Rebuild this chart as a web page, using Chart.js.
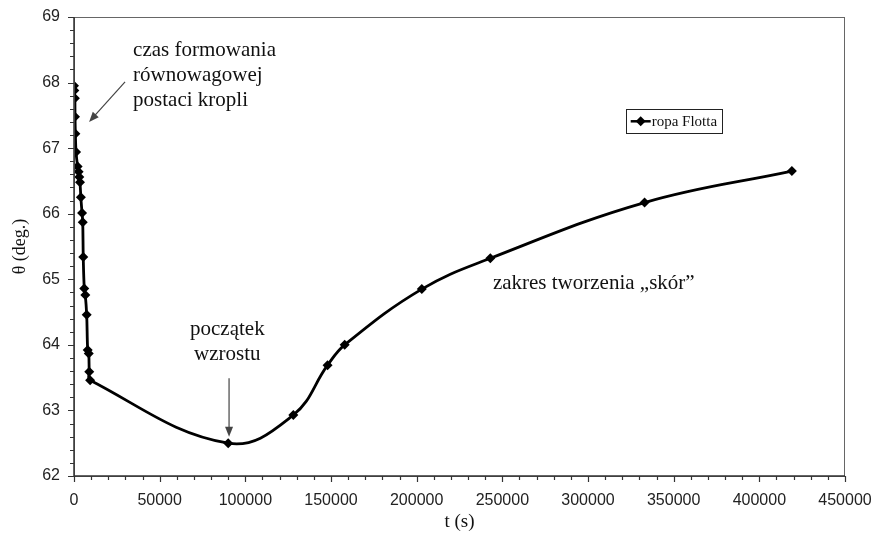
<!DOCTYPE html>
<html>
<head>
<meta charset="utf-8">
<script src="https://cdn.jsdelivr.net/npm/chart.js@4"></script>
<style>
  html, body { margin: 0; padding: 0; background: #fff; }
  #wrap { width: 872px; height: 536px; }
</style>
</head>
<body>
<div id="wrap"><canvas id="chart" width="872" height="536"></canvas></div>
<script>
const timeS = [0, 200, 500, 600, 800, 1200, 2100, 2700, 3100, 3500, 4000, 4700, 5100, 5400,
  6000, 6600, 7400, 8000, 8600, 8900, 9400,
  90000, 128000, 148000, 158000, 203000, 243000, 333000, 419000];
const thetaDeg = [67.95, 67.88, 67.76, 67.48, 67.22, 66.94, 66.72, 66.64, 66.56, 66.48, 66.25, 66.01, 65.87, 65.34,
  64.86, 64.76, 64.46, 63.92, 63.87, 63.59, 63.46,
  62.50, 62.93, 63.69, 64.00, 64.85, 65.32, 66.17, 66.65];
const seriesName = "ropa Flotta";

const xTicks = [0, 50000, 100000, 150000, 200000, 250000, 300000, 350000, 400000, 450000];
const yTicks = [62, 63, 64, 65, 66, 67, 68, 69];

// notes placed in data coordinates
const notes = [
  { lines: ["czas formowania", "równowagowej", "postaci kropli"], t: 34500, v: 68.49, align: "left" },
  { lines: ["początek", "wzrostu"], t: 89500, v: 64.23, align: "center" },
  { lines: ["zakres tworzenia „skór”"], t: 244500, v: 64.93, align: "left" }
];
const arrows = [
  { from: [29800, 68.01], to: [8800, 67.40] },
  { from: [90500, 63.49], to: [90500, 62.60] }
];

const SERIF = '"Liberation Serif", "Times New Roman", serif';
const SANS = '"Liberation Sans", Arial, sans-serif';
const INK = "#111";

function diamond(ctx, x, y, r) {
  ctx.beginPath();
  ctx.moveTo(x, y - r);
  ctx.lineTo(x + r, y);
  ctx.lineTo(x, y + r);
  ctx.lineTo(x - r, y);
  ctx.closePath();
  ctx.fill();
}

const decorations = {
  id: "decorations",
  afterDraw(chart) {
    const { ctx, chartArea: a, scales: { x, y } } = chart;
    ctx.save();

    // frame
    ctx.strokeStyle = "#666";
    ctx.lineWidth = 1;
    ctx.strokeRect(a.left + 0.5, a.top + 0.5, a.right - a.left - 1, a.bottom - a.top);
    ctx.strokeStyle = "#333";
    ctx.lineWidth = 1.5;
    ctx.beginPath();
    ctx.moveTo(a.left, a.top);
    ctx.lineTo(a.left, a.bottom);
    ctx.lineTo(a.right, a.bottom);
    ctx.stroke();

    // outward ticks, minor and major
    ctx.lineWidth = 1.2;
    ctx.beginPath();
    for (let v = x.min; v <= x.max; v += 10000) {
      const px = Math.round(x.getPixelForValue(v)) + 0.5;
      const len = v % 50000 === 0 ? 6 : 4;
      ctx.moveTo(px, a.bottom);
      ctx.lineTo(px, a.bottom + len);
    }
    for (let i = 0; i <= (y.max - y.min) * 5; i++) {
      const py = Math.round(y.getPixelForValue(y.min + i * 0.2)) + 0.5;
      const len = i % 5 === 0 ? 6 : 4;
      ctx.moveTo(a.left, py);
      ctx.lineTo(a.left - len, py);
    }
    ctx.stroke();

    // notes
    ctx.fillStyle = INK;
    ctx.font = "21px " + SERIF;
    ctx.textBaseline = "middle";
    notes.forEach(n => {
      ctx.textAlign = n.align;
      const px = x.getPixelForValue(n.t);
      const py = y.getPixelForValue(n.v);
      n.lines.forEach((line, i) => ctx.fillText(line, px, py + i * 25));
    });

    // arrows
    ctx.strokeStyle = "#444";
    ctx.fillStyle = "#444";
    ctx.lineWidth = 1.2;
    arrows.forEach(ar => {
      const x0 = x.getPixelForValue(ar.from[0]), y0 = y.getPixelForValue(ar.from[1]);
      const x1 = x.getPixelForValue(ar.to[0]), y1 = y.getPixelForValue(ar.to[1]);
      const ang = Math.atan2(y1 - y0, x1 - x0);
      ctx.beginPath();
      ctx.moveTo(x0, y0);
      ctx.lineTo(x1 - 6 * Math.cos(ang), y1 - 6 * Math.sin(ang));
      ctx.stroke();
      ctx.beginPath();
      ctx.moveTo(x1, y1);
      ctx.lineTo(x1 - 10 * Math.cos(ang) + 4 * Math.sin(ang), y1 - 10 * Math.sin(ang) - 4 * Math.cos(ang));
      ctx.lineTo(x1 - 10 * Math.cos(ang) - 4 * Math.sin(ang), y1 - 10 * Math.sin(ang) + 4 * Math.cos(ang));
      ctx.closePath();
      ctx.fill();
    });

    // legend box
    const lx = x.getPixelForValue(322000), ly = y.getPixelForValue(67.6);
    ctx.strokeStyle = "#222";
    ctx.lineWidth = 1;
    ctx.strokeRect(Math.round(lx) + 0.5, Math.round(ly) + 0.5, 96, 24);
    ctx.strokeStyle = "#000";
    ctx.fillStyle = "#000";
    ctx.lineWidth = 2.5;
    ctx.beginPath();
    ctx.moveTo(lx + 5, ly + 12.5);
    ctx.lineTo(lx + 25, ly + 12.5);
    ctx.stroke();
    diamond(ctx, lx + 15, ly + 12.5, 5);
    ctx.fillStyle = INK;
    ctx.font = "15px " + SERIF;
    ctx.textAlign = "left";
    ctx.fillText(seriesName, lx + 26, ly + 13);

    ctx.restore();
  }
};

new Chart(document.getElementById("chart"), {
  type: "line",
  data: {
    datasets: [{
      label: seriesName,
      data: timeS.map((t, i) => ({ x: t, y: thetaDeg[i] })),
      borderColor: "#000",
      backgroundColor: "#000",
      borderWidth: 2.8,
      tension: 0.4,
      pointStyle: "rectRot",
      pointRadius: 5,
      pointBorderWidth: 0,
      fill: false
    }]
  },
  options: {
    animation: false,
    responsive: false,
    layout: { padding: { top: 17, right: 27, left: 0, bottom: 0 } },
    plugins: {
      legend: { display: false },
      tooltip: { enabled: false }
    },
    scales: {
      x: {
        type: "linear",
        min: 0,
        max: 450000,
        afterFit: s => { s.height = 60; s.paddingLeft = 0; s.paddingRight = 0; },
        afterBuildTicks: s => { s.ticks = xTicks.map(v => ({ value: v })); },
        grid: { display: false, drawTicks: false },
        border: { display: false },
        ticks: {
          padding: 15,
          maxRotation: 0,
          autoSkip: false,
          color: "#222",
          font: { family: SANS, size: 16 },
          callback: v => String(v)
        },
        title: {
          display: true,
          text: "t (s)",
          color: INK,
          font: { family: SERIF, size: 19 },
          padding: 3
        }
      },
      y: {
        type: "linear",
        min: 62,
        max: 69,
        afterFit: s => { s.width = 74; s.paddingTop = 0; s.paddingBottom = 0; },
        afterBuildTicks: s => { s.ticks = yTicks.map(v => ({ value: v })); },
        grid: { display: false, drawTicks: false },
        border: { display: false },
        ticks: {
          padding: 14,
          color: "#222",
          font: { family: SANS, size: 16 },
          callback: v => String(v)
        },
        title: {
          display: true,
          text: "θ (deg.)",
          color: INK,
          font: { family: SERIF, size: 18 },
          padding: 9
        }
      }
    }
  },
  plugins: [decorations]
});
</script>
</body>
</html>
